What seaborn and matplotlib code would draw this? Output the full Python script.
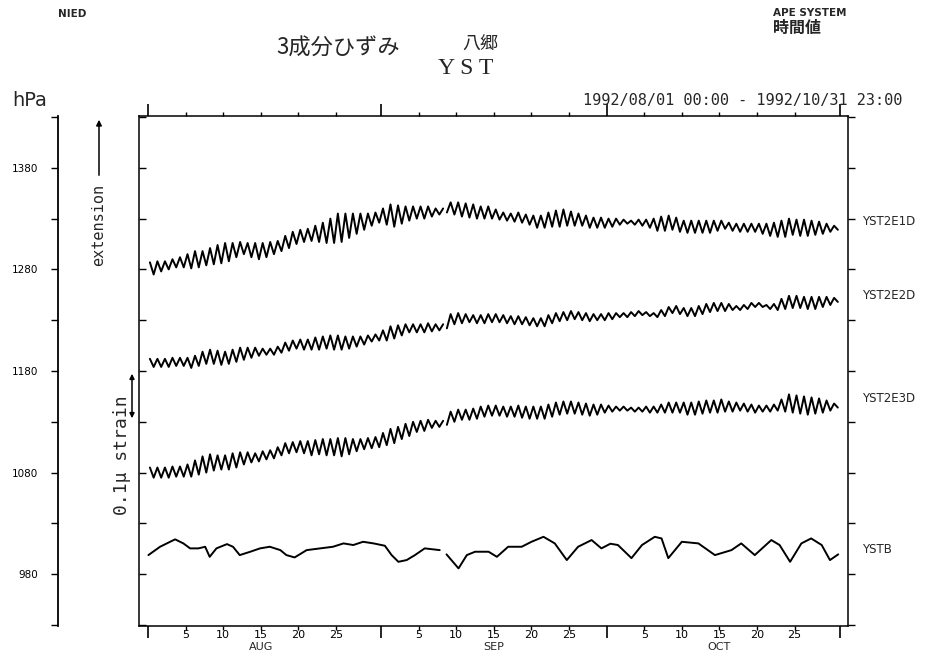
import numpy as np
import pandas as pd
import matplotlib
matplotlib.use("Agg")
import matplotlib.pyplot as plt
import matplotlib.transforms as mtrans
import seaborn as sns

sns.set_theme(style="white")
plt.rcParams["font.family"] = ["DejaVu Sans", "Noto Sans CJK JP"]

# ---------------- data (days since 1992-08-01 00:00) ----------------
month_starts = [0, 31, 61, 92]
month_names = ["AUG", "SEP", "OCT"]
day_labels = ["5", "10", "15", "20", "25"]
gap_day = 39.3

e1_mid = [1281,1283,1284,1286,1287,1288,1290,1291,1293,1295,
          1297,1299,1301,1299,1298,1299,1301,1303,1307,1311,
          1313,1314,1315,1316,1318,1321,1323,1325,1327,1329,
          1331,1332,1333,1334,1335,1336,1336,1337,1337,1338,
          1340,1339,1338,1337,1336,1336,1334,1332,1331,1331,
          1329,1327,1327,1329,1330,1331,1330,1329,1327,1326,
          1326,1326,1327,1327,1326,1326,1325,1324,1325,1326,
          1324,1322,1322,1322,1322,1323,1324,1322,1321,1321,
          1321,1320,1319,1319,1320,1322,1321,1321,1321,1321,
          1321,1321]
e1_amp = [6,5,4,4,5,7,8, 7,8,9,9,7,6, 7,8,7,6,5, 6,6,6,6,8,
          10,12,14,12,10, 8,6,5,8, 11,9,7,6, 6,5,3,2, 6,7,7,7,6,
          6,5,4,4,5,5,6,6, 7,8,8,7,6,6,5,5, 4,3,2,2,3,4,
          6,7,7,7,6,6,6, 6,5,4,4,4,4,4, 5,6,7,8, 8,8,8,7,6, 4,2]

e2_mid = [1188,1188,1188,1189,1189,1188,1190,1193,1194,1193,
          1193,1195,1197,1198,1199,1199,1199,1201,1204,1206,
          1206,1206,1207,1208,1208,1208,1208,1209,1210,1212,
          1213,1215,1218,1220,1222,1222,1222,1223,1223,1224,
          1231,1232,1232,1231,1231,1232,1232,1231,1230,1230,
          1229,1228,1228,1231,1233,1234,1235,1234,1233,1233,
          1233,1234,1235,1235,1236,1237,1236,1235,1237,1240,
          1240,1238,1238,1240,1242,1243,1243,1243,1242,1243,
          1245,1245,1243,1243,1246,1248,1248,1247,1247,1248,
          1249,1250]
e2_amp = [4,4,4,4,4,5,5, 6,7,7,6,6,6, 5,4,3,3,3, 4,4,5,5,6,
          6,7,7,6,5, 4,3,3,5, 6,5,4,4, 4,4,3,2, 5,5,4,4,4,
          4,4,4,4,4,4,4,4, 4,4,4,4,4,4,3,3, 3,2,2,2,2,2,
          2,3,3,4,4,4,4, 4,4,4,3,2,2,2, 2,2,3,5, 6,6,6,6,5, 4,2]

e3_mid = [1080,1080,1080,1081,1081,1082,1085,1088,1090,1090,
          1090,1092,1094,1095,1095,1097,1098,1101,1104,1105,
          1105,1104,1105,1105,1105,1105,1106,1107,1108,1109,
          1110,1113,1116,1119,1122,1125,1126,1128,1128,1129,
          1135,1137,1137,1138,1140,1141,1141,1140,1140,1140,
          1139,1139,1139,1141,1143,1144,1144,1143,1142,1142,
          1143,1143,1143,1143,1142,1142,1142,1142,1143,1144,
          1144,1143,1143,1144,1145,1145,1146,1145,1145,1144,
          1143,1143,1143,1144,1146,1148,1147,1146,1146,1146,
          1146,1146]
e3_amp = [5,5,5,5,5,6,7, 8,8,7,7,7,6, 5,4,4,4,4, 5,5,6,7,7,
          8,8,9,8,6, 5,5,5,6, 7,6,6,5, 5,4,3,2, 5,5,5,5,5,
          5,5,5,5,6,6,6,6, 6,6,6,6,6,6,5,4, 3,2,2,2,2,3,
          3,4,5,5,6,6,6, 6,6,6,5,4,4,4, 3,3,3,6, 9,9,9,8,7, 5,2]

ystb_t = [0.05,1.6,3.6,4.7,5.6,6.7,7.6,8.2,9.1,10.5,11.3,12.2,13.6,14.9,16.2,
          17.6,18.4,19.5,21.1,22.9,24.6,26.0,27.3,28.6,30.0,31.5,32.4,33.3,
          34.4,35.5,36.8,38.8,39.7,41.3,42.4,43.5,45.3,46.4,47.9,49.7,51.0,
          52.6,54.1,55.7,57.2,59.0,60.3,61.5,62.5,64.3,65.7,67.4,68.3,69.2,
          71.0,73.2,75.4,77.6,78.9,80.7,82.9,84.0,85.4,86.9,88.2,89.6,90.7,91.8]
ystb_p = [998.8,1007.0,1014.3,1010.3,1005.4,1005.4,1007.0,997.1,1005.4,1009.6,
          1007.0,998.8,1002.1,1005.4,1007.0,1003.7,998.8,996.5,1003.7,1005.4,
          1007.0,1010.3,1008.7,1011.9,1010.3,1008.0,998.8,992.2,993.9,998.8,
          1005.4,1003.7,999.5,985.7,998.8,1002.1,1002.1,997.1,1007.0,1007.0,
          1011.9,1016.8,1010.3,993.9,1007.0,1013.6,1005.4,1010.0,1008.7,995.8,
          1008.7,1016.8,1015.2,995.8,1011.9,1010.3,998.8,1003.7,1010.3,998.8,
          1013.6,1008.7,992.2,1010.3,1015.2,1008.7,993.9,999.5]

series_names = ["YST2E1D", "YST2E2D", "YST2E3D", "YSTB"]
label_levels = [1327, 1254, 1153, 1004]

# ---------------- build long table ----------------
rows = []
for name, mid, amp in [("YST2E1D", e1_mid, e1_amp),
                       ("YST2E2D", e2_mid, e2_amp),
                       ("YST2E3D", e3_mid, e3_amp)]:
    for d, (m, a) in enumerate(zip(mid, amp)):
        for off, v in ((0.25, m + a), (0.75, m - a)):
            t = d + off
            rows.append((name, name + ("_a" if t < gap_day else "_b"), t, v))
for t, v in zip(ystb_t, ystb_p):
    rows.append(("YSTB", "YSTB" + ("_a" if t < gap_day else "_b"), t, v))
df = pd.DataFrame(rows, columns=["series", "uid", "t", "v"])

# ---------------- figure ----------------
W, H = 941, 670
fig = plt.figure(figsize=(W / 100, H / 100), dpi=100)
L, R, T, B = 139, 848, 116, 626
ax = fig.add_axes([L / W, 1 - B / H, (R - L) / W, (B - T) / H])
ylo, yhi = 929, 1431
xlo, xhi = -1.2, 93.1

sns.lineplot(data=df, x="t", y="v", units="uid", estimator=None,
             color="black", lw=1.4, ax=ax, legend=False)

ax.set_xlim(xlo, xhi)
ax.set_ylim(ylo, yhi)
ax.set_xlabel("")
ax.set_ylabel("")
for s in ax.spines.values():
    s.set_color("black")
    s.set_linewidth(1.1)

yt = np.arange(930, 1431, 50)
ax.set_yticks(yt)
ax.set_yticklabels([])
ax.tick_params(axis="y", which="major", left=True, right=False,
               direction="in", length=5, width=1.0, color="black")

minor_pos = []
minor_lab = []
for ms in month_starts[:3]:
    for k, lab in enumerate(day_labels):
        minor_pos.append(ms + 5 * (k + 1))
        minor_lab.append(lab)
ax.set_xticks(month_starts)
ax.set_xticklabels([])
ax.set_xticks(minor_pos, minor=True)
ax.set_xticklabels(minor_lab, minor=True)
ax.tick_params(axis="x", which="major", bottom=True, top=True,
               direction="out", length=8.6, width=1.2, color="black")
ax.tick_params(axis="x", which="minor", bottom=True, top=True,
               direction="out", length=3, width=1.0, color="black",
               labelsize=8, pad=0, labelcolor="black")

# right-side outward ticks
axr = ax.twinx()
axr.set_ylim(ylo, yhi)
axr.set_yticks(yt)
axr.set_yticklabels([])
axr.tick_params(axis="y", right=True, left=False, direction="out",
                length=5, width=1.0, color="black")
axr.grid(False)
for s in axr.spines.values():
    s.set_visible(False)

# left hPa axis
axh = fig.add_axes([58 / W, 1 - B / H, 0.001, (B - T) / H])
axh.set_ylim(ylo, yhi)
axh.set_xticks([])
for k, s in axh.spines.items():
    s.set_visible(k == "left")
axh.spines["left"].set_linewidth(1.3)
axh.spines["left"].set_color("black")
axh.patch.set_alpha(0)
axh.set_yticks(yt)
axh.set_yticklabels([str(v) if (v - 980) % 100 == 0 else "" for v in yt])
axh.tick_params(axis="y", left=True, direction="out", length=5, width=1.0,
                color="black", labelsize=7.5, pad=9, labelcolor="black")

# month names
btr = mtrans.blended_transform_factory(ax.transData, fig.transFigure)
for ms, mn in zip(month_starts, month_names):
    ax.text(ms + 15, 1 - 647 / H, mn, transform=btr, ha="center",
            va="center", fontsize=8)

# series labels
rtr = mtrans.blended_transform_factory(fig.transFigure, ax.transData)
for nm, lv in zip(series_names, label_levels):
    ax.text(862 / W, lv, nm, transform=rtr, ha="left", va="center",
            fontsize=8.5)

# header texts
cjk = ["Noto Sans CJK JP", "DejaVu Sans"]
fig.text(58 / W, 1 - 14 / H, "NIED", fontsize=7.5, weight="bold", va="center")
fig.text(773 / W, 1 - 13 / H, "APE SYSTEM", fontsize=7.5, weight="bold",
         va="center")
fig.text(773 / W, 1 - 28 / H, "時間値", fontsize=11.5, family=cjk,
         weight="bold", va="center")
fig.text(276 / W, 1 - 48 / H, "3成分ひずみ", fontsize=16, family=cjk,
         va="center")
fig.text(462 / W, 1 - 45 / H, "八郷", fontsize=13, family=cjk, va="center")
fig.text(438 / W, 1 - 69 / H, "Y S T", fontsize=17,
         family=["Liberation Serif"], va="center")
fig.text(12 / W, 1 - 100 / H, "hPa", fontsize=14, va="center")
fig.text(583 / W, 1 - 100 / H, "1992/08/01 00:00 - 1992/10/31 23:00",
         fontsize=11, family=["DejaVu Sans Mono"], va="center")

# extension label with arrow
fig.text(99 / W, 1 - 225 / H, "extension", rotation=90, fontsize=11,
         family=["DejaVu Sans Mono"], ha="center", va="center")
fig.add_artist(matplotlib.patches.FancyArrowPatch(
    (99 / W, 1 - 178 / H), (99 / W, 1 - 117 / H),
    transform=fig.transFigure, arrowstyle="-|>", mutation_scale=8,
    lw=1.1, color="black"))

# strain scale bar
fig.text(122 / W, 1 - 455 / H, "0.1\u03bc strain", rotation=90, fontsize=13,
         family=["DejaVu Sans Mono"], ha="center", va="center")
fig.add_artist(matplotlib.patches.FancyArrowPatch(
    (132 / W, 1 - 421 / H), (132 / W, 1 - 371 / H),
    transform=fig.transFigure, arrowstyle="<|-|>", mutation_scale=7,
    lw=1.1, color="black"))

fig.savefig("out.png", dpi=100)
